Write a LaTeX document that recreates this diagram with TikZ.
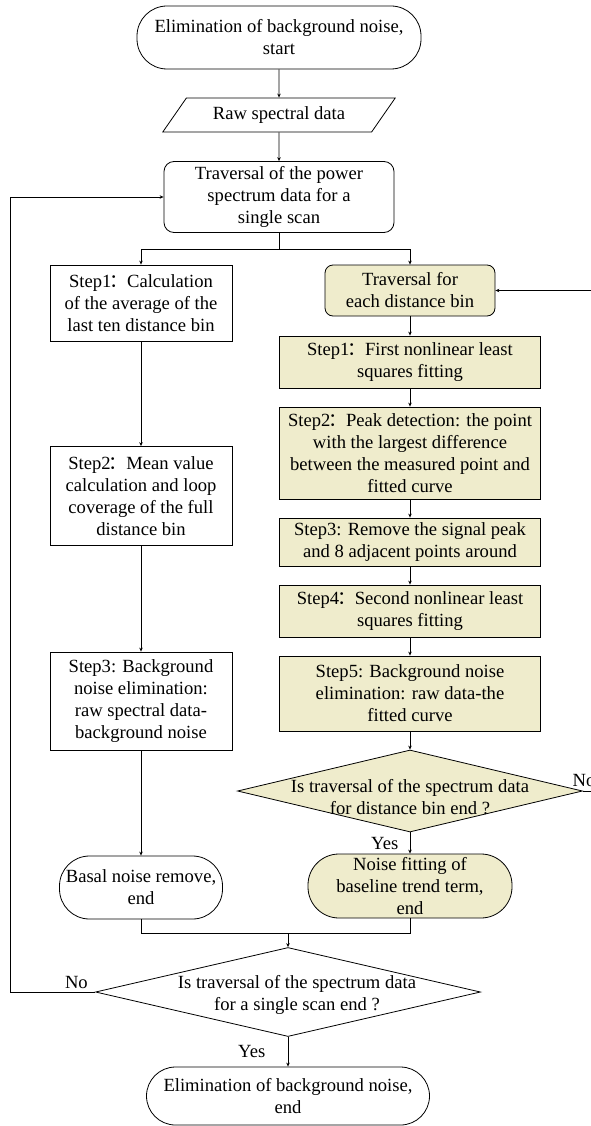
\documentclass[tikz,border=0pt]{standalone}
\usepackage{fontspec}
\setmainfont{Liberation Serif}
\newfontfamily\cjk{Noto Sans CJK SC}
\usetikzlibrary{shapes.geometric,arrows.meta}
\definecolor{binfill}{RGB}{239,236,204}
\newcommand{\wcolon}{\kern-2pt{\cjk ：}\kern-1pt}

\begin{document}
\begin{tikzpicture}[x=1pt, y=-1pt, line width=0.8pt, >={Stealth[length=4pt,width=3.5pt]},
	every node/.style={font=\fontsize{18.6}{22}\selectfont},
	term node/.style={draw, rectangle, align=center, inner sep=0pt},
	io node/.style={draw, trapezium, trapezium left angle=45, trapezium right angle=135, trapezium stretches=true, inner sep=0pt},
	step node/.style={draw, rectangle, align=center, inner sep=0pt, minimum width=182pt},
	bin node/.style={draw, rectangle, fill=binfill, align=center, inner sep=0pt, minimum width=261pt},
	check node/.style={draw, diamond, inner sep=0pt}]
	\useasboundingbox (0,0) rectangle (591,1126);
	% main column
	\node[term node, rounded corners=30pt, minimum width=284pt, minimum height=63pt] (start) at (279,37.5) {Elimination of background noise,\\start};
	\node[io node, minimum width=233pt, minimum height=34pt] (raw) [below of=start, node distance=77.5pt] {Raw spectral data};
	\node[draw, rounded corners=10pt, align=center, inner sep=0pt, minimum width=230pt, minimum height=71pt] (trav) [below of=raw, node distance=82pt] {Traversal of the power\\spectrum data for a\\single scan};
	% left column
	\node[step node, minimum height=76pt] (s1L) at (141,303) {Step1\wcolon Calculation\\of the average of the\\last ten distance bin};
	\node[step node, minimum height=99pt] (s2L) [below of=s1L, node distance=193pt] {Step2\wcolon Mean value\\calculation and loop\\coverage of the full\\distance bin};
	\node[step node, minimum height=98pt] (s3L) [below of=s2L, node distance=205pt] {Step3: Background\\noise elimination:\\raw spectral data-\\background noise};
	\node[term node, rounded corners=30pt, minimum width=163pt, minimum height=63pt] (basal) [below of=s3L, node distance=186.5pt] {Basal noise remove,\\end};
	% right column
	\node[draw, fill=binfill, rounded corners=8pt, align=center, inner sep=0pt, minimum width=170pt, minimum height=51pt] (travR) at (410,290.5) {Traversal for\\each distance bin};
	\node[bin node, minimum height=52pt] (s1R) [below of=travR, node distance=71.5pt] {Step1\wcolon First nonlinear least\\squares fitting};
	\node[bin node, minimum height=92pt] (s2R) [below of=s1R, node distance=91pt] {Step2\wcolon Peak detection: the point\\with the largest difference\\between the measured point and\\fitted curve};
	\node[bin node, minimum height=48pt] (s3R) [below of=s2R, node distance=89pt] {Step3: Remove the signal peak\\and 8 adjacent points around};
	\node[bin node, minimum height=52pt] (s4R) [below of=s3R, node distance=69pt] {Step4\wcolon Second nonlinear least\\squares fitting};
	\node[bin node, minimum height=75pt] (s5R) [below of=s4R, node distance=82.5pt] {Step5: Background noise\\elimination: raw data-the\\fitted curve};
	\node[check node, fill=binfill, minimum width=345pt, minimum height=82pt] (decR) [below of=s5R, node distance=97.5pt] {};
	\node[align=center] (decRtext) at ([yshift=-6pt]decR.center) {Is traversal of the spectrum data\\for distance bin end ?};
	\node[term node, fill=binfill, rounded corners=31pt, minimum width=204pt, minimum height=64pt] (endR) [below of=decR, node distance=95pt] {Noise fitting of\\baseline trend term,\\end};
	% bottom
	\node[check node, minimum width=385pt, minimum height=89pt] (decM) at (288,992) {};
	\node[align=center] (decMtext) at ([xshift=9pt,yshift=-3pt]decM.center) {Is traversal of the spectrum data\\for a single scan end ?};
	\node[term node, rounded corners=29pt, minimum width=283pt, minimum height=58pt] (end) [below of=decM, node distance=104pt] {Elimination of background noise,\\end};

	\path[->] (start) edge (raw)
		(raw) edge (trav)
		(s1L) edge (s2L)
		(s2L) edge (s3L)
		(s3L) edge (basal)
		(travR) edge (s1R)
		(s1R) edge (s2R)
		(s2R) edge (s3R)
		(s3R) edge (s4R)
		(s4R) edge (s5R)
		(s5R) edge (decR)
		(decR) edge node (yesR) [left=8pt] {Yes} (endR)
		(decM) edge node (yesM) [left=19pt] {Yes} (end);
	% split and merge
	\draw (trav.south) -- ++(0,16) coordinate (brn);
	\draw[->] (brn) -| (s1L.north);
	\draw[->] (brn) -| (travR.north);
	\draw (basal.south) -- ++(0,14) coordinate (mrg) -| (endR.south);
	\draw[->] (mrg -| decM.north) -- (decM.north);
	% loops back
	\draw[->] (decR.east) -- node (noR) [anchor=south west, pos=0, xshift=-14pt, yshift=1pt] {No} ++(12,0) |- (travR.east);
	\draw[->] (decM.west) -- node (noM) [above, pos=0.22] {No} ++(-85,0) |- (trav.west);
\end{tikzpicture}
\end{document}
